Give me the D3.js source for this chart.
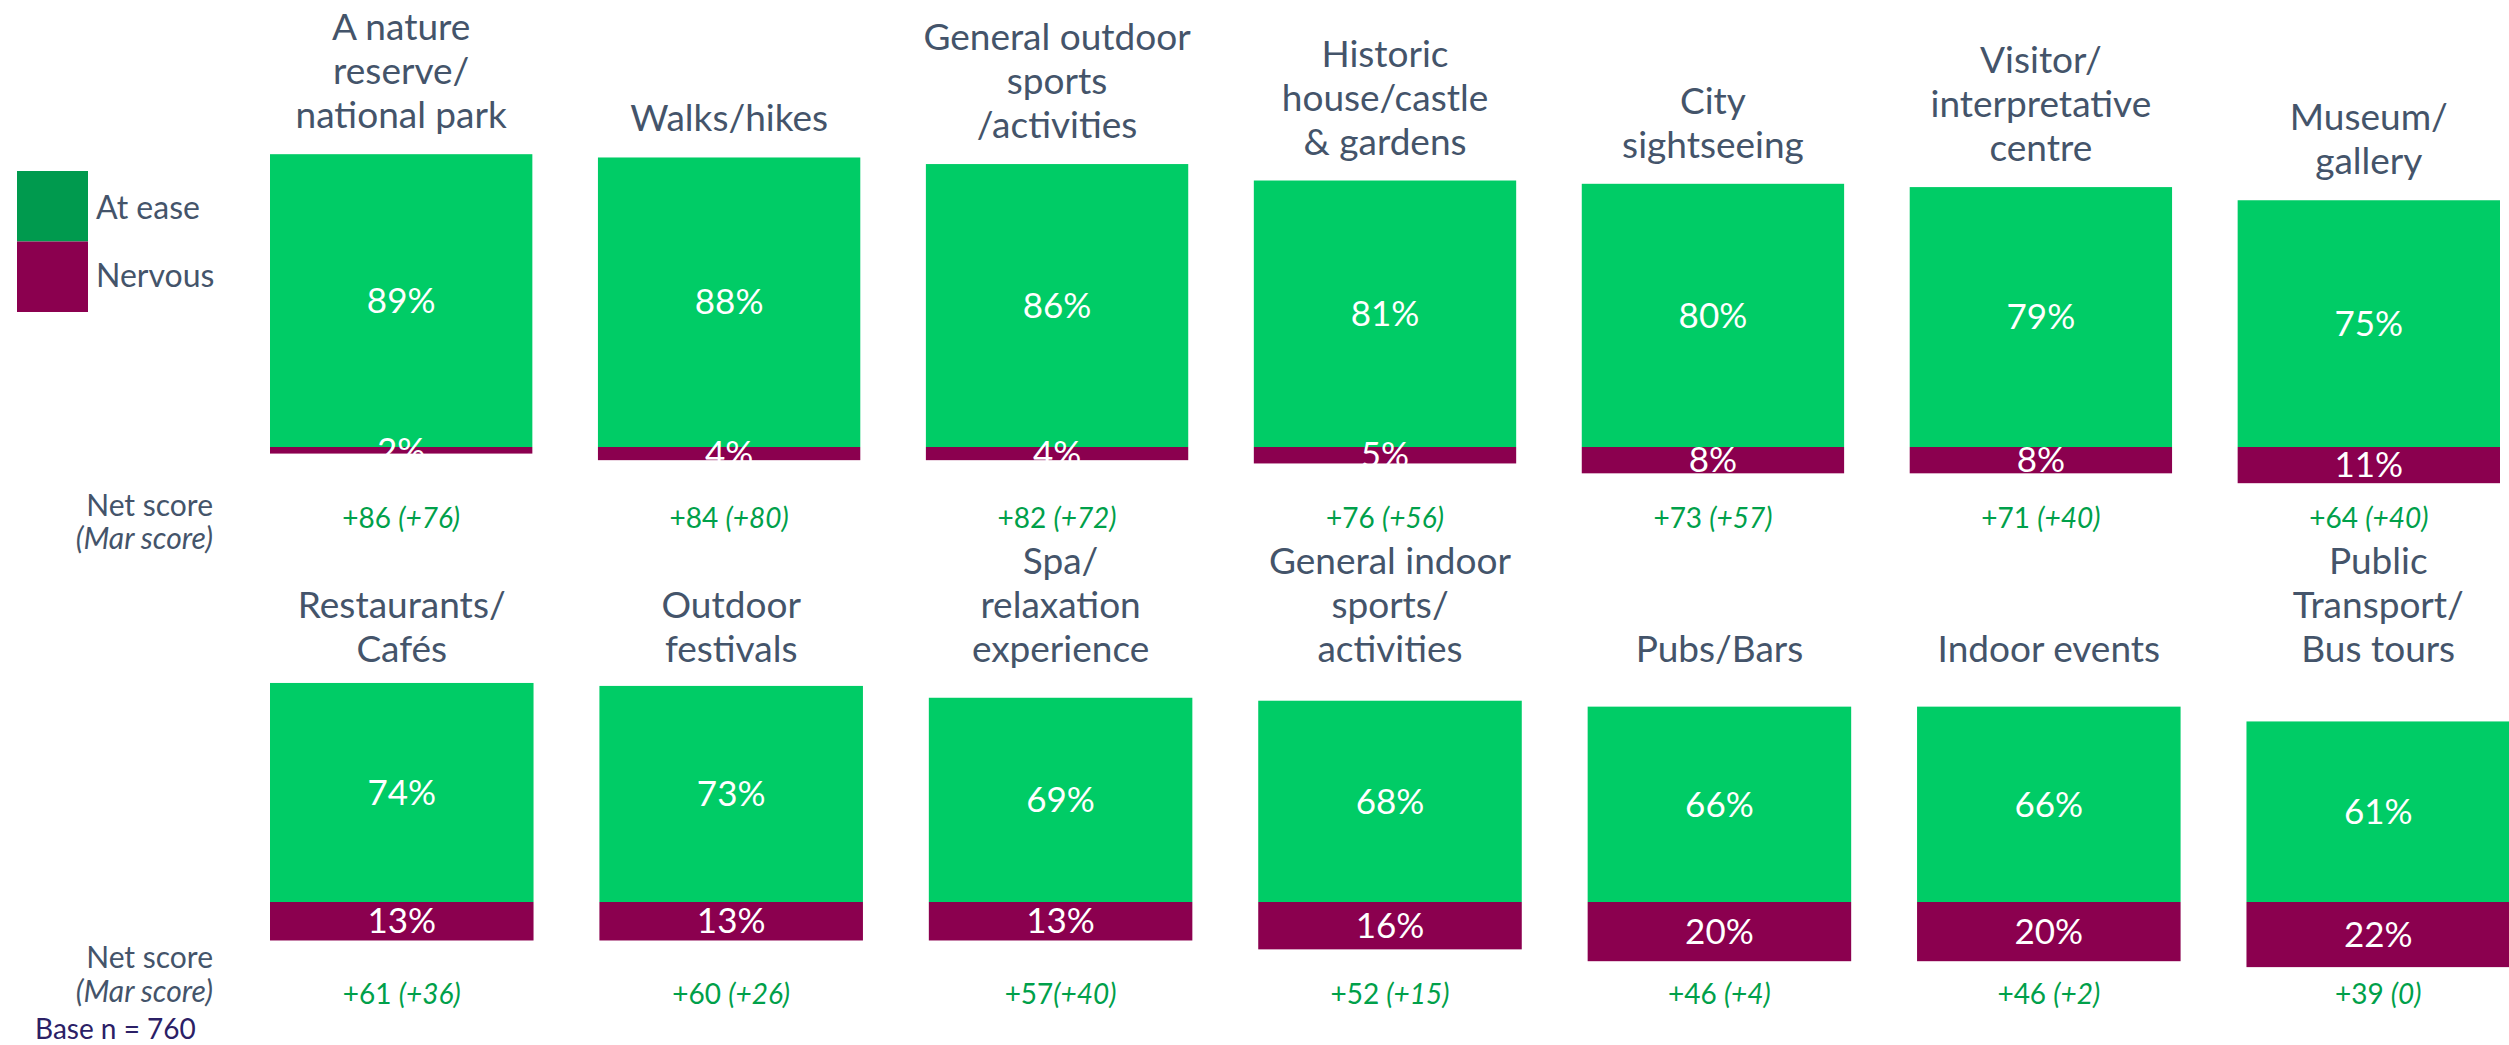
<!DOCTYPE html>
<html>
<head>
<meta charset="utf-8">
<script src="https://cdn.jsdelivr.net/npm/d3@7"></script>
<style>
  body { margin: 0; background: #fff; }
  svg { display: block; font-family: Lato, "Open Sans", sans-serif; }
</style>
</head>
<body>
<svg id="chart"></svg>
<script>
// categories, "|" marks a line break in the title
var categories = [
  "A nature|reserve/|national park", "Walks/hikes", "General outdoor|sports|/activities",
  "Historic|house/castle|& gardens", "City|sightseeing", "Visitor/|interpretative|centre",
  "Museum/|gallery",
  "Restaurants/|Cafés", "Outdoor|festivals", "Spa/|relaxation|experience",
  "General indoor|sports/|activities", "Pubs/Bars", "Indoor events", "Public|Transport/|Bus tours"
];
var atEase  = [89, 88, 86, 81, 80, 79, 75, 74, 73, 69, 68, 66, 66, 61];
var nervous = [2, 4, 4, 5, 8, 8, 11, 13, 13, 13, 16, 20, 20, 22];
var netLabels = [
  "+86 (+76)", "+84 (+80)", "+82 (+72)", "+76 (+56)", "+73 (+57)", "+71 (+40)", "+64 (+40)",
  "+61 (+36)", "+60 (+26)", "+57(+40)", "+52 (+15)", "+46 (+4)", "+46 (+2)", "+39 (0)"
];
var legendKeys = ["At ease", "Nervous"];

var width = 2509, height = 1045;
var green = "#00cc66", purple = "#8b004f", legendGreen = "#009a4e";
var titleColor = "#44546a", netColor = "#00a04a";

var svg = d3.select("#chart").attr("width", width).attr("height", height);

var rows = [
  {start: 0, baseline: 447, pxPer: 3.29, x0: 270, x1: 2500, netY: 528, sideY: [516, 549]},
  {start: 7, baseline: 902, pxPer: 2.96, x0: 270, x1: 2510, netY: 1004, sideY: [968, 1002], titleY: 662}
];

var data = categories.map(function(c, i) {
  return {cat: c, ease: atEase[i], nerv: nervous[i], net: netLabels[i], idx: i};
});

rows.forEach(function(r) {
  var rowData = data.slice(r.start, r.start + 7);
  var x = d3.scaleBand()
    .domain(rowData.map(function(d) { return d.cat; }))
    .range([r.x0, r.x1])
    .paddingInner(0.2)
    .paddingOuter(0);
  var y = d3.scaleLinear().domain([0, 100]).range([r.baseline, r.baseline - 100 * r.pxPer]);

  var g = svg.append("g");
  var panel = g.selectAll("g.panel").data(rowData).enter().append("g").attr("class", "panel");

  panel.append("rect")
    .attr("x", function(d) { return x(d.cat); })
    .attr("y", function(d) { return y(d.ease); })
    .attr("width", x.bandwidth())
    .attr("height", function(d) { return y(0) - y(d.ease); })
    .attr("fill", green);

  panel.append("rect")
    .attr("x", function(d) { return x(d.cat); })
    .attr("y", y(0))
    .attr("width", x.bandwidth())
    .attr("height", function(d) { return y(0) - y(d.nerv); })
    .attr("fill", purple);

  var cx = function(d) { return x(d.cat) + x.bandwidth() / 2; };

  panel.append("text")
    .attr("x", cx)
    .attr("y", function(d) { return (y(d.ease) + y(0)) / 2; })
    .attr("dy", "0.35em")
    .attr("text-anchor", "middle")
    .attr("fill", "#fff")
    .attr("font-size", 35)
    .text(function(d) { return d.ease + "%"; });

  panel.append("text")
    .attr("x", cx)
    .attr("y", function(d) { return y(0) + (y(0) - y(d.nerv)) / 2; })
    .attr("dy", "0.35em")
    .attr("text-anchor", "middle")
    .attr("fill", "#fff")
    .attr("font-size", 35)
    .text(function(d) { return d.nerv + "%"; });

  // category titles, last line sits above the bar
  panel.each(function(d) {
    var lines = d.cat.split("|");
    var last = r.titleY !== undefined ? r.titleY : y(d.ease) - 26;
    var t = d3.select(this).append("text")
      .attr("text-anchor", "middle")
      .attr("fill", titleColor)
      .attr("font-size", 37);
    lines.forEach(function(line, i) {
      t.append("tspan")
        .attr("x", cx(d))
        .attr("y", last - (lines.length - 1 - i) * 44)
        .text(line);
    });
  });

  // net score, with the March score in italics
  var net = panel.append("text")
    .attr("x", cx)
    .attr("y", r.netY)
    .attr("text-anchor", "middle")
    .attr("fill", netColor)
    .attr("font-size", 28);
  net.append("tspan").text(function(d) { return d.net.slice(0, d.net.indexOf("(")); });
  net.append("tspan").attr("font-style", "italic")
    .text(function(d) { return d.net.slice(d.net.indexOf("(")); });

  g.append("text").attr("x", 213).attr("y", r.sideY[0])
    .attr("text-anchor", "end").attr("fill", titleColor).attr("font-size", 30)
    .text("Net score");
  g.append("text").attr("x", 213).attr("y", r.sideY[1])
    .attr("text-anchor", "end").attr("fill", titleColor).attr("font-size", 30)
    .attr("font-style", "italic")
    .text("(Mar score)");
});

// legend
var legend = svg.append("g").selectAll("g").data(legendKeys).enter().append("g");
legend.append("rect")
  .attr("x", 17).attr("y", function(d, i) { return 171 + i * 70.5; })
  .attr("width", 71).attr("height", 70.5)
  .attr("fill", function(d, i) { return i === 0 ? legendGreen : purple; });
legend.append("text")
  .attr("x", 96).attr("y", function(d, i) { return 219 + i * 68; })
  .attr("fill", titleColor).attr("font-size", 32)
  .text(function(d) { return d; });

svg.append("text")
  .attr("x", 35).attr("y", 1039)
  .attr("fill", "#2b2066").attr("font-size", 28)
  .text("Base n = 760");
</script>
</body>
</html>
